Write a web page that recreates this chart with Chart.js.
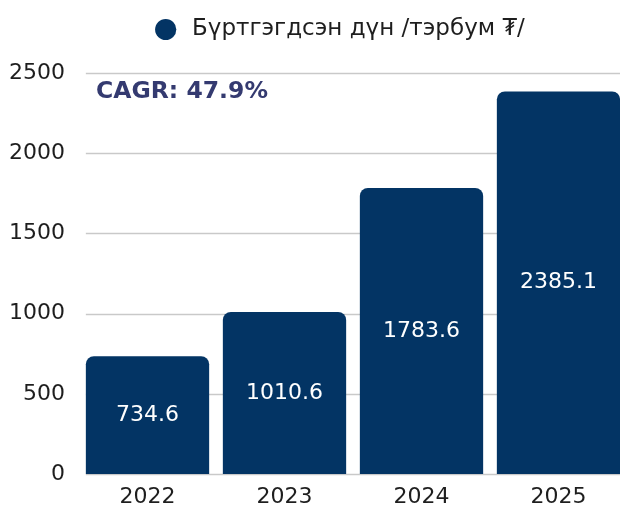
<!DOCTYPE html>
<html>
<head>
<meta charset="utf-8">
<script src="https://cdn.jsdelivr.net/npm/chart.js@4/dist/chart.umd.min.js"></script>
<style>
  html, body { margin: 0; padding: 0; background: #fff; overflow: hidden; }
  #wrap { width: 620px; height: 505px; overflow: hidden; }
  canvas { display: block; }
</style>
</head>
<body>
<div id="wrap"><canvas id="chart" width="627" height="505"></canvas></div>
<script>
const years = ['2022', '2023', '2024', '2025'];
const registered = [734.6, 1010.6, 1783.6, 2385.1];
const seriesLabel = 'Бүртгэгдсэн дүн /тэрбум ₮/';
const cagrText = 'CAGR: 47.9%';

const FONT = '"DejaVu Sans", sans-serif';
const BAR_COLOR = '#033464';

// horizontal grid lines, drawn from the first bar's left edge like the original
const gridPlugin = {
  id: 'customGrid',
  beforeDatasetsDraw(chart) {
    const { ctx, chartArea, scales } = chart;
    const first = chart.getDatasetMeta(0).data[0];
    if (!first) return;
    const x0 = first.x - first.width / 2;
    ctx.save();
    ctx.strokeStyle = '#c9c9c9';
    ctx.lineWidth = 1.5;
    scales.y.ticks.forEach((t) => {
      const y = Math.round(scales.y.getPixelForValue(t.value)) + 0.5;
      ctx.beginPath();
      ctx.moveTo(x0, y);
      ctx.lineTo(chartArea.right, y);
      ctx.stroke();
    });
    ctx.restore();
  }
};

const barLabelPlugin = {
  id: 'barLabels',
  afterDatasetsDraw(chart) {
    const { ctx } = chart;
    const meta = chart.getDatasetMeta(0);
    ctx.save();
    ctx.fillStyle = '#ffffff';
    ctx.font = '22px ' + FONT;
    ctx.textAlign = 'center';
    ctx.textBaseline = 'middle';
    meta.data.forEach((bar, i) => {
      ctx.fillText(registered[i].toFixed(1), bar.x, (bar.y + bar.base) / 2);
    });
    ctx.restore();
  }
};

const cagrPlugin = {
  id: 'cagr',
  afterDraw(chart) {
    const { ctx } = chart;
    ctx.save();
    ctx.fillStyle = '#343a70';
    ctx.font = 'bold 23.5px ' + FONT;
    ctx.textAlign = 'left';
    ctx.textBaseline = 'middle';
    ctx.fillText(cagrText, 96, 92);
    ctx.restore();
  }
};

// extra room under the legend, and nudge it right like the original
const legendTweak = {
  id: 'legendTweak',
  beforeLayout(chart) {
    const lg = chart.legend;
    if (lg && !lg._patched) {
      const fit = lg.fit.bind(lg);
      lg.fit = function () {
        fit();
        this.height += 23;
      };
      lg._patched = true;
    }
  },
  afterLayout(chart) {
    if (chart.legend) {
      chart.legend.left += 28;
      chart.legend.right += 28;
      chart.legend.top += 1;
    }
  }
};

new Chart(document.getElementById('chart'), {
  type: 'bar',
  data: {
    labels: years,
    datasets: [{
      label: seriesLabel,
      data: registered,
      backgroundColor: BAR_COLOR,
      borderRadius: { topLeft: 8, topRight: 8, bottomLeft: 0, bottomRight: 0 },
      borderSkipped: false,
      categoryPercentage: 1,
      barPercentage: 0.9
    }]
  },
  options: {
    responsive: false,
    animation: false,
    layout: { padding: { top: 5, bottom: 0, left: 0, right: 0 } },
    plugins: {
      legend: {
        display: true,
        position: 'top',
        labels: {
          usePointStyle: true,
          pointStyle: 'circle',
          boxWidth: 15,
          boxHeight: 15,
          color: '#1e1e1e',
          font: { family: FONT, size: 23 },
          padding: 12,
          generateLabels(chart) {
            const items = Chart.defaults.plugins.legend.labels.generateLabels(chart);
            items.forEach((it) => { it.text = ' ' + it.text; });
            return items;
          }
        }
      },
      tooltip: { enabled: false }
    },
    scales: {
      x: {
        grid: { display: false, drawTicks: false },
        border: { display: false },
        ticks: { color: '#1e1e1e', font: { family: FONT, size: 22 }, padding: 10 },
        afterFit(scale) { scale.height = 31; }
      },
      y: {
        min: 0,
        max: 2500,
        ticks: {
          stepSize: 500,
          color: '#1e1e1e',
          font: { family: FONT, size: 22 },
          padding: 14,
          callback: (v) => String(v)
        },
        grid: { display: false, drawTicks: false },
        border: { display: false },
        afterFit(scale) { scale.width = 79; }
      }
    }
  },
  plugins: [gridPlugin, barLabelPlugin, cagrPlugin, legendTweak]
});
</script>
</body>
</html>
